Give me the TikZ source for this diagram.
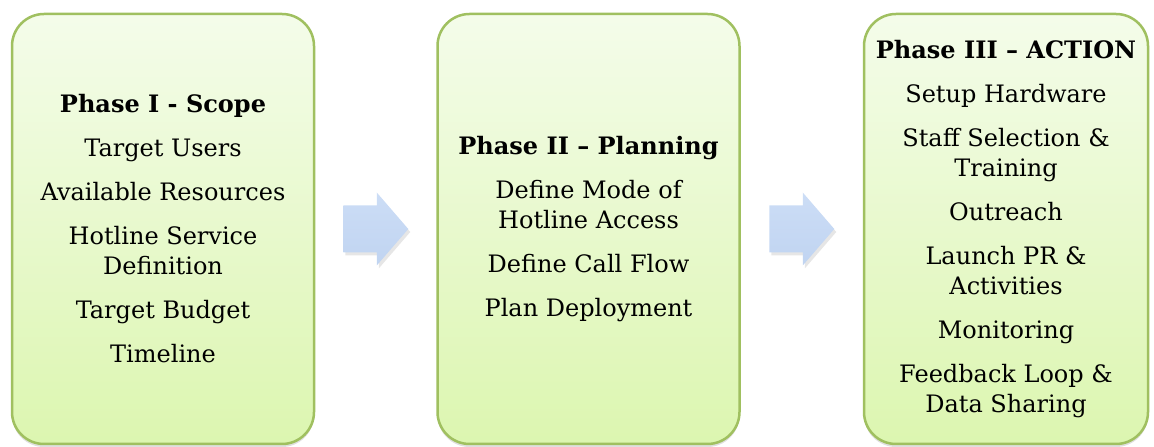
\documentclass[tikz,border=0pt]{standalone}
\usepackage{fontspec}
\setmainfont{DejaVu Serif}
\usetikzlibrary{shadows, positioning, calc}
\definecolor{PhaseLine}{HTML}{A0C060}
\definecolor{PhaseTop}{HTML}{F4FCEA}
\definecolor{PhaseBottom}{HTML}{DCF6B0}
\definecolor{ArrowTop}{HTML}{CCDDF6}
\definecolor{ArrowBottom}{HTML}{C0D4F1}

\tikzset{
  phase/.style={draw=PhaseLine, line width=2.5pt, rounded corners=32pt,
    top color=PhaseTop, bottom color=PhaseBottom,
    minimum width=302pt, minimum height=430pt, inner sep=0pt, align=center,
    font=\fontsize{24}{30}\selectfont,
    drop shadow={shadow xshift=0pt, shadow yshift=-3pt, opacity=0.25}},
  pics/phasearrow/.style={code={
    \path[top color=ArrowTop, bottom color=ArrowBottom,
      drop shadow={shadow xshift=2pt, shadow yshift=-3pt, opacity=0.2}]
      (-32.5,-23.5) -- (1,-23.5) -- (1,-36.5) -- (32.5,0) -- (1,36.5)
      -- (1,23.5) -- (-32.5,23.5) -- cycle;
  }}
}

\begin{document}
\begin{tikzpicture}[x=1pt, y=1pt]
    \useasboundingbox (0,0) rectangle (1154,447);
    % phase boxes
    \node[phase] (p1) at (163,218) {\textbf{Phase I - Scope}\\[14pt]
      Target Users\\[14pt] Available Resources\\[14pt]
      Hotline Service\\ Definition\\[14pt] Target Budget\\[14pt] Timeline};
    \node[phase, right=121pt of p1] (p2) {\textbf{Phase II -- Planning}\\[14pt]
      Define Mode of\\ Hotline Access\\[14pt] Define Call Flow\\[14pt] Plan Deployment};
    \node[phase, minimum width=284pt, right=122pt of p2] (p3) {\textbf{Phase III -- ACTION}\\[14pt]
      Setup Hardware\\[14pt] Staff Selection \&\\ Training\\[14pt] Outreach\\[14pt]
      Launch PR \&\\ Activities\\[14pt] Monitoring\\[14pt] Feedback Loop \&\\ Data Sharing};
    % arrows between phases
    \coordinate (a1) at ($(p1.east)!0.5!(p2.west)$);
    \coordinate (a2) at ($(p2.east)!0.5!(p3.west)$);
    \pic at (a1) {phasearrow};
    \pic at (a2) {phasearrow};
\end{tikzpicture}
\end{document}
